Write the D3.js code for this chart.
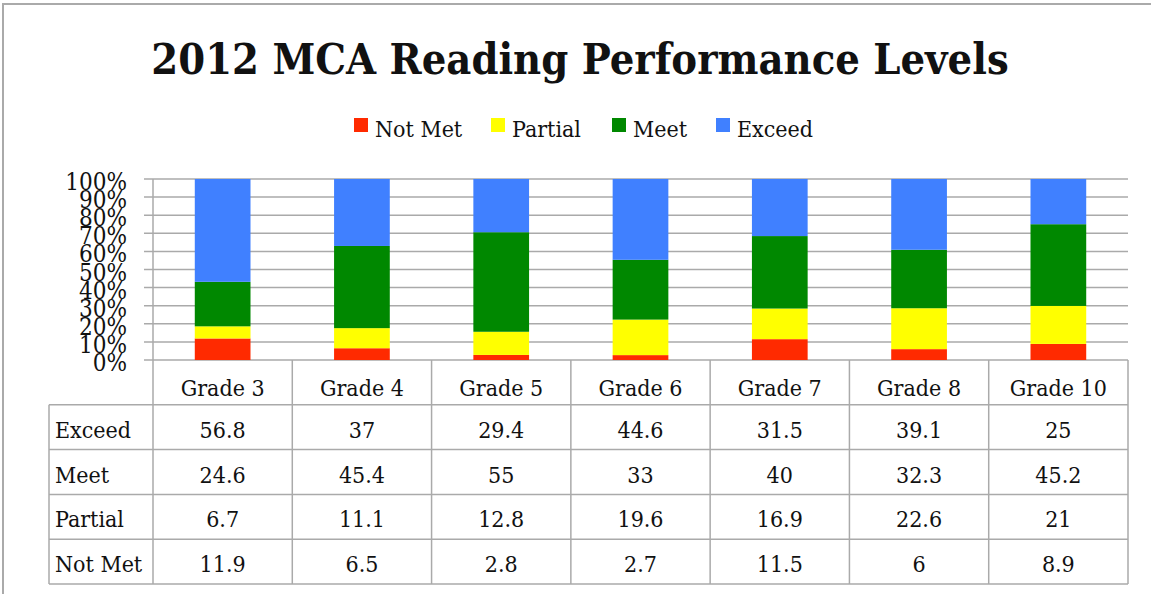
<!DOCTYPE html>
<html>
<head>
<meta charset="utf-8">
<script src="https://cdn.jsdelivr.net/npm/d3@7"></script>
<style>
  body { margin: 0; background: #fff; }
  text { font-family: "DejaVu Serif", "Liberation Serif", serif; font-stretch: condensed; fill: #111; }
</style>
</head>
<body>
<div id="chart"></div>
<script>
// data
var grades = ["Grade 3", "Grade 4", "Grade 5", "Grade 6", "Grade 7", "Grade 8", "Grade 10"];
var levels = ["Not Met", "Partial", "Meet", "Exceed"];
var exceed = [56.8, 37, 29.4, 44.6, 31.5, 39.1, 25];
var meet = [24.6, 45.4, 55, 33, 40, 32.3, 45.2];
var partial = [6.7, 11.1, 12.8, 19.6, 16.9, 22.6, 21];
var notMet = [11.9, 6.5, 2.8, 2.7, 11.5, 6, 8.9];
var yTicks = [0, 0.1, 0.2, 0.3, 0.4, 0.5, 0.6, 0.7, 0.8, 0.9, 1];

var colors = { "Not Met": "#ff2a00", "Partial": "#ffff00", "Meet": "#008800", "Exceed": "#4080ff" };
var series = { "Not Met": notMet, "Partial": partial, "Meet": meet, "Exceed": exceed };
var tableRows = ["Exceed", "Meet", "Partial", "Not Met"];

var W = 1151, H = 594;
var svg = d3.select("#chart").append("svg")
  .attr("width", W)
  .attr("height", H);

// frame
svg.append("path")
  .attr("d", "M3,600 V4 H1151")
  .attr("fill", "none")
  .attr("stroke", "#aaa")
  .attr("stroke-width", 2);

// title
svg.append("text")
  .attr("x", 580).attr("y", 74)
  .attr("text-anchor", "middle")
  .style("font-weight", "bold")
  .style("font-size", "43px")
  .text("2012 MCA Reading Performance Levels");

// scales
var x = d3.scaleBand()
  .domain(grades)
  .range([153, 1128])
  .paddingInner(0.6)
  .paddingOuter(0.3);

var y = d3.scaleLinear()
  .domain([0, 1])
  .range([360, 179]);

// table rows (for the grid lines of the table)
var rowY = d3.scaleBand()
  .domain(["head"].concat(tableRows))
  .range([360, 584]);

// legend
var legendX = [354, 491, 612, 716];
var legend = svg.append("g").selectAll("g")
  .data(levels)
  .enter().append("g")
  .attr("transform", function(d, i) { return "translate(" + legendX[i] + ",118)"; });
legend.append("rect")
  .attr("width", 14).attr("height", 14)
  .attr("fill", function(d) { return colors[d]; });
legend.append("text")
  .attr("x", 21).attr("y", 19)
  .style("font-size", "23px")
  .text(function(d) { return d; });

// gridlines
svg.append("g").selectAll("line")
  .data(yTicks)
  .enter().append("line")
  .attr("x1", 144).attr("x2", 1128)
  .attr("y1", function(d) { return y(d); })
  .attr("y2", function(d) { return y(d); })
  .attr("stroke", "#aaa")
  .attr("stroke-width", 1.5);

// y tick labels (they crowd each other in the original too)
svg.append("g").selectAll("text")
  .data(yTicks)
  .enter().append("text")
  .attr("x", 127)
  .attr("y", function(d) { return y(d) + 11; })
  .attr("text-anchor", "end")
  .style("font-size", "24px")
  .text(d3.format(".0%"));

// stacked bars
var rows = grades.map(function(g, i) {
  var r = { grade: g };
  levels.forEach(function(l) { r[l] = series[l][i]; });
  return r;
});
var stack = d3.stack().keys(levels).offset(d3.stackOffsetExpand);

svg.append("g").selectAll("g")
  .data(stack(rows))
  .enter().append("g")
  .attr("fill", function(d) { return colors[d.key]; })
  .selectAll("rect")
  .data(function(d) { return d; })
  .enter().append("rect")
  .attr("x", function(d) { return x(d.data.grade); })
  .attr("y", function(d) { return y(d[1]); })
  .attr("height", function(d) { return y(d[0]) - y(d[1]); })
  .attr("width", x.bandwidth());

// data table
var step = x.step();
var colLeft = function(i) { return 153 + i * step; };
var table = svg.append("g")
  .attr("stroke", "#aaa")
  .attr("stroke-width", 1.5);

// horizontal lines
table.selectAll("line.h")
  .data(tableRows.concat(["end"]))
  .enter().append("line")
  .attr("x1", 49).attr("x2", 1128)
  .attr("y1", function(d) { return d === "end" ? 584 : rowY(d); })
  .attr("y2", function(d) { return d === "end" ? 584 : rowY(d); });

// vertical lines
table.selectAll("line.v")
  .data(d3.range(grades.length + 1))
  .enter().append("line")
  .attr("x1", function(i) { return colLeft(i); })
  .attr("x2", function(i) { return colLeft(i); })
  .attr("y1", function(i) { return i === 0 ? 179 : 360; })
  .attr("y2", 584);
table.append("line")
  .attr("x1", 49).attr("x2", 49)
  .attr("y1", rowY("Exceed")).attr("y2", 584);

// header labels
svg.append("g").selectAll("text")
  .data(grades)
  .enter().append("text")
  .attr("x", function(d) { return x(d) + x.bandwidth() / 2; })
  .attr("y", rowY("head") + 36)
  .attr("text-anchor", "middle")
  .style("font-size", "23px")
  .text(function(d) { return d; });

// row labels and values
var body = svg.append("g").selectAll("g")
  .data(tableRows)
  .enter().append("g")
  .attr("transform", function(d) { return "translate(0," + (rowY(d) + 33) + ")"; });
body.append("text")
  .attr("x", 55)
  .style("font-size", "23px")
  .text(function(d) { return d; });
body.selectAll("text.v")
  .data(function(d) { return series[d].map(function(v, i) { return { grade: grades[i], v: v }; }); })
  .enter().append("text")
  .attr("x", function(d) { return x(d.grade) + x.bandwidth() / 2; })
  .attr("text-anchor", "middle")
  .style("font-size", "23px")
  .text(function(d) { return d.v; });
</script>
</body>
</html>
